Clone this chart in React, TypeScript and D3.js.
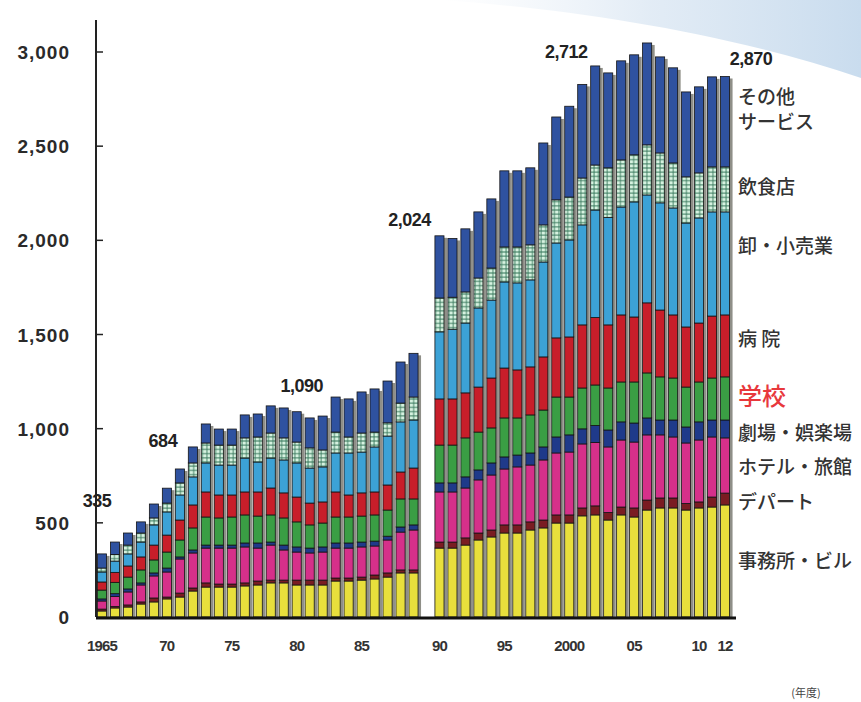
import React from 'react';
import * as d3 from 'd3';

// ---------- data ----------
const leftYears = [1965, 1966, 1967, 1968, 1969, 1970, 1971, 1972, 1973, 1974, 1975, 1976, 1977, 1978, 1979, 1980, 1981, 1982, 1983, 1984, 1985, 1986, 1987, 1988, 1989];
const rightYears = [1990, 1991, 1992, 1993, 1994, 1995, 1996, 1997, 1998, 1999, 2000, 2001, 2002, 2003, 2004, 2005, 2006, 2007, 2008, 2009, 2010, 2011, 2012];
const years = [...leftYears, ...rightYears];

const office = [32, 48, 53, 69, 80, 96, 106, 138, 159, 159, 159, 165, 170, 181, 181, 170, 170, 170, 191, 191, 196, 202, 212, 234, 234, 366, 366, 382, 409, 425, 446, 446, 462, 473, 499, 499, 537, 542, 515, 542, 531, 568, 579, 579, 568, 579, 584, 595];
const dept = [10, 8, 11, 11, 21, 10, 21, 16, 22, 16, 16, 16, 21, 15, 15, 26, 26, 26, 16, 16, 16, 21, 22, 16, 16, 32, 32, 38, 37, 37, 43, 43, 43, 42, 43, 43, 42, 48, 40, 42, 48, 53, 53, 53, 35, 32, 53, 63];
const hotel = [43, 53, 69, 90, 117, 133, 181, 186, 185, 191, 191, 191, 175, 186, 160, 149, 144, 149, 159, 159, 160, 154, 175, 201, 212, 266, 266, 265, 282, 292, 297, 308, 302, 319, 329, 334, 340, 337, 348, 356, 350, 346, 335, 324, 321, 329, 319, 293];
const theater = [11, 15, 16, 11, 16, 21, 11, 16, 16, 16, 16, 21, 27, 16, 26, 27, 26, 27, 27, 27, 26, 26, 20, 27, 27, 48, 48, 59, 53, 64, 64, 63, 64, 69, 85, 91, 80, 90, 90, 96, 101, 90, 79, 90, 85, 96, 90, 95];
const school = [47, 60, 63, 69, 69, 85, 90, 117, 149, 144, 149, 149, 143, 144, 144, 133, 123, 127, 138, 138, 138, 139, 139, 149, 138, 201, 201, 207, 201, 186, 207, 197, 202, 196, 212, 201, 217, 215, 223, 212, 218, 239, 229, 223, 212, 212, 223, 229];
const hospital = [43, 53, 59, 69, 79, 90, 106, 122, 133, 122, 117, 122, 128, 143, 133, 132, 116, 112, 133, 117, 123, 122, 133, 143, 164, 245, 245, 239, 239, 265, 265, 255, 255, 282, 314, 319, 335, 358, 335, 356, 345, 372, 355, 335, 319, 313, 329, 329];
const retail = [53, 60, 64, 79, 107, 123, 133, 149, 154, 159, 159, 180, 159, 159, 175, 181, 186, 186, 207, 223, 217, 239, 260, 266, 255, 356, 370, 371, 420, 414, 457, 462, 462, 504, 504, 515, 531, 571, 571, 573, 611, 573, 569, 568, 552, 558, 553, 547];
const restaurant = [21, 35, 47, 48, 37, 47, 64, 74, 106, 106, 106, 107, 133, 133, 117, 111, 107, 90, 111, 85, 101, 79, 70, 100, 122, 180, 170, 165, 159, 170, 186, 191, 186, 197, 229, 228, 249, 239, 263, 250, 250, 266, 265, 239, 245, 239, 239, 239];
const other = [75, 66, 64, 59, 74, 79, 74, 85, 101, 85, 85, 122, 122, 144, 159, 161, 159, 180, 186, 202, 218, 229, 222, 218, 232, 330, 312, 335, 351, 367, 404, 404, 409, 435, 440, 482, 497, 526, 504, 526, 531, 541, 510, 505, 451, 457, 478, 480];

const categoryKeys = ['office', 'dept', 'hotel', 'theater', 'school', 'hospital', 'retail', 'restaurant', 'other'];
const categoryNames = [['事務所・ビル'], ['デパート'], ['ホテル・旅館'], ['劇場・娯楽場'], ['学校'], ['病 院'], ['卸・小売業'], ['飲食店'], ['その他', 'サービス']];
const seriesValues = [office, dept, hotel, theater, school, hospital, retail, restaurant, other];

const yTicks = [0, 500, 1000, 1500, 2000, 2500, 3000];
const xTickYears = [1965, 1970, 1975, 1980, 1985, 1990, 1995, 2000, 2005, 2010, 2012];
const xTickLabels = ['1965', '70', '75', '80', '85', '90', '95', '2000', '05', '10', '12'];

const valueLabelYears = [1965, 1970, 1980, 1990, 2000, 2012];
const valueLabelTexts = ['335', '684', '1,090', '2,024', '2,712', '2,870'];

// ---------- style / layout ----------
const W = 861;
const H = 702;
const colors = ['#e8df3c', '#7a1c22', '#d6308a', '#1f3a8a', '#3a9e44', '#c81e2a', '#3ca2d6', 'url(#dotPat)', '#2f52a0'];
const valueLabelOffsets: [number, number][] = [[-5, -47], [-4, -41], [5, -20], [-30, -10], [-3, -48], [26, -11]];
const legendDy = [0, 3, 2, 4, -2, -7, -17, -2, -12];
const legendColors = ['#333', '#333', '#333', '#333', '#e8383c', '#333', '#333', '#333', '#333'];
const legendSizes = [19, 19, 19, 19, 24, 19, 19, 19, 19];

const table = years.map((yr, i) => {
  const row: Record<string, number | string> = { year: String(yr) };
  categoryKeys.forEach((k, j) => { row[k] = seriesValues[j][i]; });
  return row;
});

const slots = [...leftYears.map(String), 'gap', ...rightYears.map(String)];

export default function App() {
  const x = d3.scaleBand<string>().domain(slots).range([95.5, 731.5]).paddingInner(0.3).paddingOuter(0.15);
  const y = d3.scaleLinear().domain([0, 3000]).range([617, 52]);
  const stack = d3.stack<any>().keys(categoryKeys);
  const series = stack(table as any);
  const bw = x.bandwidth();
  const totals = years.map((_, i) => seriesValues.reduce((s, arr) => s + arr[i], 0));
  const lastIdx = years.length - 1;
  const numFont = '"Liberation Sans", Arial, sans-serif';
  const jpFont = '"Noto Sans CJK JP", sans-serif';

  return (
    <div style={{ position: 'absolute', left: 0, top: 0 }}>
      <svg width={W} height={H} viewBox={`0 0 ${W} ${H}`} style={{ display: 'block', background: '#fff' }}>
        <defs>
          <linearGradient id="swoosh" x1="0" y1="0" x2="1" y2="0">
            <stop offset="0" stopColor="#e6eef7" stopOpacity="0" />
            <stop offset="0.5" stopColor="#dbe7f3" stopOpacity="0.8" />
            <stop offset="1" stopColor="#c9dcee" stopOpacity="1" />
          </linearGradient>
          <pattern id="dotPat" width="4.4" height="4.2" patternUnits="userSpaceOnUse">
            <rect width="4.4" height="4.2" fill="#3a7a5e" />
            <rect x="0.5" y="0.5" width="3.5" height="3.2" fill="#d6f2e0" />
          </pattern>
        </defs>
        <path d="M 440 0 C 560 8, 720 30, 861 78 L 861 0 Z" fill="url(#swoosh)" />

        {/* y axis */}
        <line x1={96} x2={96} y1={20} y2={y(0)} stroke="#222" strokeWidth={2} />
        {yTicks.map(t => (
          <g key={t}>
            {t > 0 && <line x1={96} x2={103} y1={y(t)} y2={y(t)} stroke="#222" strokeWidth={1.5} />}
            <text x={70} y={y(t) + 7} textAnchor="end" fontFamily={numFont} fontWeight="bold" fontSize={19} letterSpacing={1} fill="#2a2a2a">
              {d3.format(',')(t)}
            </text>
          </g>
        ))}

        {/* bar shadows */}
        {years.map((yr, i) => (
          <rect key={'s' + yr} x={(x(String(yr)) as number) + 3} y={y(totals[i]) + 2} width={bw} height={y(0) - y(totals[i]) - 2} fill="#8f8f88" />
        ))}

        {/* stacked bars */}
        {series.map((s, si) => (
          <g key={s.key} fill={colors[si]}>
            {s.map((d: any) => (
              <rect key={d.data.year} x={x(d.data.year)} y={y(d[1])} width={bw} height={Math.max(0, y(d[0]) - y(d[1]))} stroke="#151515" strokeWidth={0.8} />
            ))}
          </g>
        ))}

        {/* baseline */}
        <line x1={96} x2={736} y1={y(0) + 1} y2={y(0) + 1} stroke="#111" strokeWidth={3} />

        {/* x tick labels */}
        {xTickYears.map((yr, i) => (
          <text key={yr} x={(x(String(yr)) as number) + bw / 2} y={651} textAnchor="middle" fontFamily={numFont} fontWeight="bold" fontSize={15} letterSpacing={-0.8} fill="#333">
            {xTickLabels[i]}
          </text>
        ))}
        <text x={806} y={697} textAnchor="middle" fontFamily={jpFont} fontSize={11} fill="#444">(年度)</text>

        {/* value labels */}
        {valueLabelYears.map((yr, i) => {
          const idx = years.indexOf(yr);
          const cx = (x(String(yr)) as number) + bw / 2 + valueLabelOffsets[i][0];
          const cy = y(totals[idx]) + valueLabelOffsets[i][1];
          return (
            <text key={yr} x={cx} y={cy} textAnchor="middle" fontFamily={numFont} fontWeight="bold" fontSize={18} letterSpacing={-0.5} fill="#222">
              {valueLabelTexts[i]}
            </text>
          );
        })}

        {/* right-side category labels */}
        {series.map((s, si) => {
          const d: any = s[lastIdx];
          const mid = y((d[0] + d[1]) / 2) + legendDy[si];
          const lines = categoryNames[si];
          const lh = 25;
          return (
            <text key={'l' + s.key} x={738} fontFamily={jpFont} fontSize={legendSizes[si]} fontWeight={500} fill={legendColors[si]}>
              {lines.map((ln, li) => (
                <tspan key={li} x={738} y={mid + legendSizes[si] * 0.36 + (li - (lines.length - 1) / 2) * lh}>{ln}</tspan>
              ))}
            </text>
          );
        })}
      </svg>
    </div>
  );
}
